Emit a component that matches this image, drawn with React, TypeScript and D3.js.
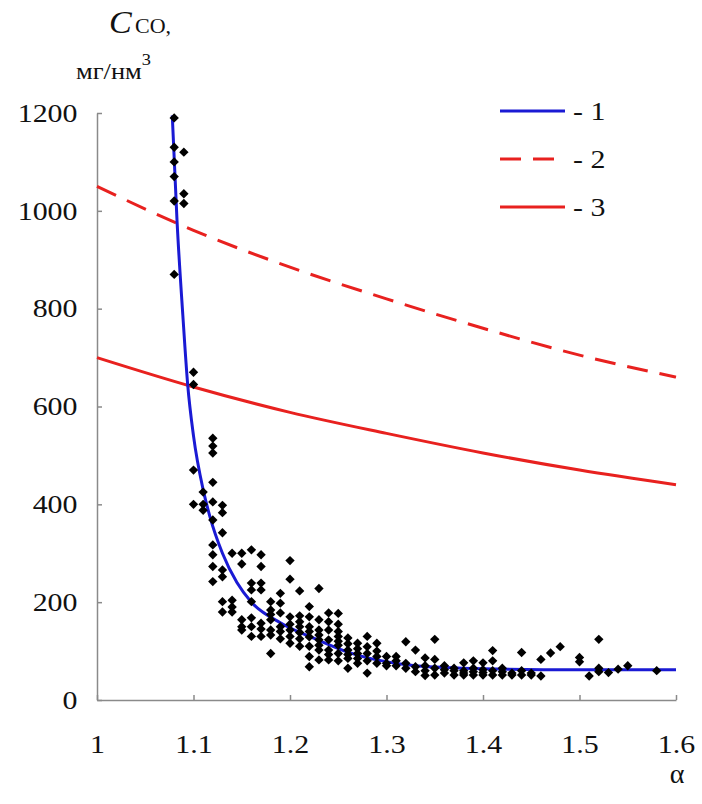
import * as d3 from "d3";
import { useEffect, useRef } from "react";

// axis ticks
const alphaTicks = [1, 1.1, 1.2, 1.3, 1.4, 1.5, 1.6];
const cTicks = [0, 200, 400, 600, 800, 1000, 1200];

// curve 1 (blue, fitted)
const fitAlpha = [1.078, 1.083, 1.089, 1.094, 1.1, 1.11, 1.117, 1.13, 1.145, 1.16, 1.19, 1.23, 1.26, 1.29, 1.33, 1.4, 1.5, 1.6];
const fitC = [1195, 977, 785, 644, 540, 430, 375, 300, 240, 200, 158, 122, 98, 82, 70, 64, 62, 62];

// curves 2 and 3 (red)
const normAlpha = [1.0, 1.1, 1.2, 1.3, 1.4, 1.5, 1.6];
const norm2C = [1050, 960, 885, 820, 760, 705, 660];
const norm3C = [700, 640, 588, 545, 505, 470, 440];

// measured points: alpha -> list of C values
const measured: [number, number[]][] = [
    [1.08, [1190, 1130, 1100, 1070, 1020, 870]],
    [1.09, [1120, 1035, 1015]],
    [1.10, [670, 645, 470, 400]],
    [1.11, [425, 400, 388]],
    [1.12, [535, 519, 505, 445, 405, 368, 317, 297, 273, 242]],
    [1.13, [398, 383, 342, 266, 252, 201, 180]],
    [1.14, [300, 204, 180, 190]],
    [1.15, [300, 278, 164, 143, 150]],
    [1.16, [307, 239, 225, 201, 168, 130, 150]],
    [1.17, [297, 273, 239, 225, 157, 130, 145]],
    [1.18, [201, 184, 164, 143, 133, 95, 175]],
    [1.19, [218, 198, 178, 150, 140, 125]],
    [1.20, [285, 247, 170, 143, 116, 155, 130]],
    [1.21, [223, 172, 150, 125, 110, 160, 138]],
    [1.22, [191, 170, 150, 129, 89, 68, 110, 140]],
    [1.23, [228, 164, 143, 123, 102, 82, 112, 133]],
    [1.24, [178, 143, 123, 102, 82, 160, 93]],
    [1.25, [177, 155, 130, 112, 95, 80, 140, 120]],
    [1.26, [127, 102, 85, 65, 115, 93]],
    [1.27, [116, 95, 85, 105, 75]],
    [1.28, [130, 109, 55, 95, 80]],
    [1.29, [116, 89, 75, 100]],
    [1.30, [89, 75, 70]],
    [1.31, [89, 70, 80]],
    [1.32, [119, 75, 65]],
    [1.33, [102, 58, 68]],
    [1.34, [86, 60, 50, 70]],
    [1.35, [124, 83, 65, 51]],
    [1.36, [70, 55, 62]],
    [1.37, [65, 60, 51]],
    [1.38, [76, 60, 51, 55]],
    [1.39, [80, 65, 51, 58]],
    [1.40, [76, 62, 51, 56]],
    [1.41, [101, 80, 60, 51]],
    [1.42, [65, 51, 58]],
    [1.43, [55, 51]],
    [1.44, [97, 60, 51]],
    [1.45, [55, 51]],
    [1.46, [83, 49]],
    [1.47, [96]],
    [1.48, [109]],
    [1.50, [87, 78]],
    [1.51, [49]],
    [1.52, [124, 65, 58]],
    [1.53, [56]],
    [1.54, [63]],
    [1.55, [70]],
    [1.58, [60]],
];

const legendItems = ["- 1", "- 2", "- 3"];

const BLUE = "#1a1ad4";
const RED = "#e8211f";
const FONT = "Liberation Serif, Tinos, Times New Roman, DejaVu Serif, serif";

export default function App() {
    const ref = useRef<SVGSVGElement>(null);

    useEffect(() => {
        const svg = d3.select(ref.current);
        svg.selectAll("*").remove();

        const width = 702;
        const height = 804;
        svg.attr("width", width).attr("height", height).attr("font-family", FONT);
        svg.append("rect").attr("width", width).attr("height", height).attr("fill", "#fff");

        const x = d3.scaleLinear().domain([1, 1.6]).range([97, 676]);
        const y = d3.scaleLinear().domain([0, 1200]).range([700, 113]);

        // axes
        const xAxis = svg
            .append("g")
            .attr("transform", `translate(0,${y(0)})`)
            .call(
                d3.axisBottom(x)
                    .tickValues(alphaTicks)
                    .tickSize(-5)
                    .tickSizeOuter(0)
                    .tickPadding(35)
                    .tickFormat(d => String(d))
            );

        const yAxis = svg
            .append("g")
            .attr("transform", `translate(${x(1)},0)`)
            .call(
                d3.axisLeft(y)
                    .tickValues(cTicks)
                    .tickSize(-5)
                    .tickSizeOuter(0)
                    .tickPadding(17)
                    .tickFormat(d3.format("d"))
            );

        // source text is a bit wide, stretch labels horizontally
        [xAxis, yAxis].forEach(a => {
            a.attr("font-family", FONT).attr("font-size", 26);
            a.selectAll("path, line").attr("stroke", "#8a8a8a").attr("stroke-width", 1.5);
            a.selectAll("text").attr("fill", "#111").attr("transform", "scale(1.15,1)");
        });

        // curves
        const line = d3
            .line<[number, number]>()
            .x(d => x(d[0]))
            .y(d => y(d[1]))
            .curve(d3.curveMonotoneX);

        const norm2 = normAlpha.map((a, i) => [a, norm2C[i]] as [number, number]);
        const norm3 = normAlpha.map((a, i) => [a, norm3C[i]] as [number, number]);
        const fit = fitAlpha.map((a, i) => [a, fitC[i]] as [number, number]);

        svg.append("path")
            .attr("d", line(norm2))
            .attr("fill", "none")
            .attr("stroke", RED)
            .attr("stroke-width", 3)
            .attr("stroke-dasharray", "21 12");

        svg.append("path")
            .attr("d", line(norm3))
            .attr("fill", "none")
            .attr("stroke", RED)
            .attr("stroke-width", 3);

        svg.append("path")
            .attr("d", line(fit))
            .attr("fill", "none")
            .attr("stroke", BLUE)
            .attr("stroke-width", 3);

        // points
        const pts = measured.flatMap(([a, cs]) => cs.map(c => [a, c] as [number, number]));
        const diamond = d3.symbol().type(d3.symbolDiamond2).size(56);
        svg.append("g")
            .selectAll("path")
            .data(pts)
            .enter()
            .append("path")
            .attr("transform", d => `translate(${x(d[0])},${y(d[1])})`)
            .attr("d", diamond)
            .attr("fill", "#000");

        // legend
        const legend = svg.append("g").attr("transform", "translate(500,111)");
        legendItems.forEach((label, i) => {
            const ly = i * 48;
            legend.append("line")
                .attr("x1", 0)
                .attr("x2", 65)
                .attr("y1", ly)
                .attr("y2", ly)
                .attr("stroke", i === 0 ? BLUE : RED)
                .attr("stroke-width", 3)
                .attr("stroke-dasharray", i === 1 ? "21 12" : null);
            legend.append("text")
                .attr("transform", `translate(73,${ly + 9}) scale(1.15,1)`)
                .attr("font-size", 26)
                .attr("fill", "#111")
                .text(label);
        });

        // axis titles
        const title = svg.append("text")
            .attr("transform", "translate(109,33) scale(1.1,1)")
            .attr("fill", "#111");
        title.append("tspan").attr("font-style", "italic").attr("font-size", 31).text("C");
        title.append("tspan").attr("dx", 3).attr("font-size", 20).text("CO,");

        const unit = svg.append("text")
            .attr("transform", "translate(76,79) scale(1.15,1)")
            .attr("fill", "#111");
        unit.append("tspan").attr("font-size", 23).text("мг/нм");
        unit.append("tspan").attr("dy", -14).attr("font-size", 16).text("3");

        svg.append("text")
            .attr("x", 677)
            .attr("y", 783)
            .attr("text-anchor", "middle")
            .attr("font-size", 28)
            .attr("fill", "#111")
            .text("α");
    }, []);

    return (
        <div style={{ position: "absolute", left: 0, top: 0 }}>
            <svg ref={ref} />
        </div>
    );
}
